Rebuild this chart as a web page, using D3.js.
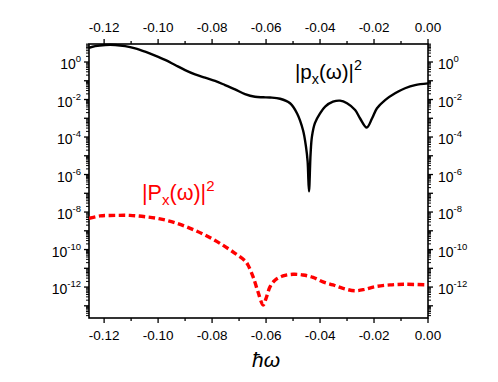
<!DOCTYPE html>
<html><head><meta charset="utf-8">
<script src="https://cdn.jsdelivr.net/npm/d3@7"></script>
<style>
body{margin:0;background:#fff;}
svg text{font-family:"Liberation Sans",Arial,Helvetica,sans-serif;}
</style></head>
<body><svg id="c" width="498" height="382"></svg>
<script>
// omega (hbar*omega) sample positions and values
const omegaBlack = [-0.1256,-0.1233,-0.1196,-0.1159,-0.1122,-0.1085,-0.1048,-0.1011,-0.0974,-0.0937,-0.0900,-0.0863,-0.0826,-0.0789,-0.0752,-0.0715,-0.0678,-0.0641,-0.0611,-0.0585,-0.0548,-0.0511,-0.0485,-0.0463,-0.0452,-0.0446,-0.0441,-0.0435,-0.0430,-0.0419,-0.0400,-0.0381,-0.0352,-0.0326,-0.0300,-0.0270,-0.0252,-0.0227,-0.0207,-0.0189,-0.0159,-0.0122,-0.0085,-0.0048,0.0];
const pxSquared = [5.75,7.08,8.13,8.13,7.08,5.37,3.55,2.19,1.29,0.692,0.372,0.219,0.145,0.0977,0.0589,0.0347,0.0195,0.0140,0.0132,0.0128,0.011,6.3e-3,1.8e-3,2.3e-4,3.0e-5,5.0e-6,1.26e-7,1.3e-5,1.05e-4,5.5e-4,1.8e-3,4.2e-3,7.6e-3,8.7e-3,6.3e-3,2.75e-3,1.0e-3,3.2e-4,1.0e-3,3.4e-3,9.3e-3,0.0214,0.0398,0.0589,0.0724];
const omegaRed = [-0.1256,-0.1215,-0.1159,-0.1104,-0.1048,-0.0993,-0.0937,-0.0881,-0.0826,-0.0770,-0.0715,-0.0678,-0.0667,-0.0648,-0.0630,-0.0611,-0.0600,-0.0585,-0.0567,-0.0537,-0.0500,-0.0463,-0.0426,-0.0389,-0.0352,-0.0315,-0.0270,-0.0233,-0.0196,-0.0141,-0.0085,0.0];
const PxSquared = [4.6e-9,6.2e-9,6.6e-9,6.6e-9,5.6e-9,4.3e-9,2.7e-9,1.35e-9,5.9e-10,2.1e-10,6.3e-11,2.5e-11,1.5e-11,3.5e-12,5.6e-13,1.1e-13,2.5e-13,1.05e-12,2.3e-12,3.9e-12,4.8e-12,4.4e-12,3.3e-12,1.9e-12,1.3e-12,8.5e-13,6.3e-13,7.6e-13,1.05e-12,1.3e-12,1.4e-12,1.3e-12];
const xTicks = [-0.12,-0.10,-0.08,-0.06,-0.04,-0.02,0.00];
const xTickLabels = ["-0.12","-0.10","-0.08","-0.06","-0.04","-0.02","0.00"];
const yTickExps = [0,-2,-4,-6,-8,-10,-12];

const svg = d3.select("#c");
const L=89,R=428,T=44,B=318;
const x = d3.scaleLinear().domain([-0.1256,0]).range([L,R]);
const y = d3.scaleLog().domain([Math.pow(10,-13.65),Math.pow(10,0.96)]).range([B,T]);

// minor x ticks
const xMinor = d3.range(-0.13,0.0001,0.01).map(v=>+v.toFixed(3)).filter(v=>v>=-0.1256 && !xTicks.some(t=>Math.abs(t-v)<1e-6));
// y ticks: majors each decade, minors 2..9
const yMajor=[], yMinor=[];
for(let e=-14;e<=1;e++){
  const v=Math.pow(10,e);
  if(v>=y.domain()[0]&&v<=y.domain()[1]) yMajor.push(v);
  for(let k=2;k<=9;k++){const m=k*v; if(m>=y.domain()[0]&&m<=y.domain()[1]) yMinor.push(m);}
}

const g = svg.append("g");
function tickLines(sel, vals, len, side){
  vals.forEach(v=>{
    if(side==="top") sel.append("line").attr("x1",x(v)).attr("x2",x(v)).attr("y1",T).attr("y2",T-len);
    if(side==="bottom") sel.append("line").attr("x1",x(v)).attr("x2",x(v)).attr("y1",B).attr("y2",B+len);
    if(side==="left") sel.append("line").attr("y1",y(v)).attr("y2",y(v)).attr("x1",L).attr("x2",L-len);
    if(side==="right") sel.append("line").attr("y1",y(v)).attr("y2",y(v)).attr("x1",R).attr("x2",R+len);
  });
}
const tg = g.append("g").attr("stroke","#000").attr("stroke-width",1.3);
tickLines(tg,xTicks,5,"top");tickLines(tg,xTicks,5,"bottom");
tickLines(tg,xMinor,3,"top");tickLines(tg,xMinor,3,"bottom");
tickLines(tg,yMajor,5,"left");tickLines(tg,yMajor,5,"right");
const tgm = g.append("g").attr("stroke","#000").attr("stroke-width",1);
tickLines(tgm,yMinor,3,"left");tickLines(tgm,yMinor,3,"right");

// frame
g.append("rect").attr("x",L).attr("y",T).attr("width",R-L).attr("height",B-T)
 .attr("fill","none").attr("stroke","#000").attr("stroke-width",1.6);

// x labels
xTicks.forEach((v,i)=>{
  g.append("text").attr("x",x(v)).attr("y",32).attr("text-anchor","middle").attr("font-size",13.5).text(xTickLabels[i]);
  g.append("text").attr("x",x(v)).attr("y",340).attr("text-anchor","middle").attr("font-size",13.5).text(xTickLabels[i]);
});
// y labels
yTickExps.forEach(e=>{
  const yy = y(Math.pow(10,e))+7;
  const tl = g.append("text").attr("x",81).attr("y",yy).attr("text-anchor","end").attr("font-size",14);
  tl.append("tspan").text("10");
  tl.append("tspan").attr("font-size",9.5).attr("dy",-7).text(String(e));
  const tr = g.append("text").attr("x",438).attr("y",yy).attr("text-anchor","start").attr("font-size",14);
  tr.append("tspan").text("10");
  tr.append("tspan").attr("font-size",9.5).attr("dy",-7).text(String(e));
});

// curves
const line = d3.line().curve(d3.curveCatmullRom.alpha(0.5));
const blackPts = omegaBlack.map((o,i)=>[x(o),y(pxSquared[i])]);
const redPts = omegaRed.map((o,i)=>[x(o),y(PxSquared[i])]);
svg.append("clipPath").attr("id","cp").append("rect").attr("x",L).attr("y",T-2).attr("width",R-L).attr("height",B-T+2);
g.append("path").attr("d",line(blackPts)).attr("fill","none").attr("stroke","#000").attr("stroke-width",2.4).attr("clip-path","url(#cp)");
g.append("path").attr("d",line(redPts)).attr("fill","none").attr("stroke","#ff0000").attr("stroke-width",3.4)
 .attr("stroke-dasharray","6.5,3.5").attr("clip-path","url(#cp)");

// annotations
function annot(xp,yp,color,main,fs){
  const t = g.append("text").attr("x",xp).attr("y",yp).attr("fill",color).attr("font-size",fs);
  t.append("tspan").text("|"+main);
  t.append("tspan").attr("font-size",fs*0.7).attr("dy",5).text("x");
  t.append("tspan").attr("dy",-5).text("(ω)|");
  t.append("tspan").attr("font-size",fs*0.7).attr("dy",-9).text("2");
}
annot(295,79,"#000","p",20.5);
annot(142,200,"#ff0000","P",21.5);

// axis title
g.append("text").attr("x",266).attr("y",367).attr("text-anchor","middle")
 .attr("font-family","'Liberation Serif','DejaVu Serif',serif").attr("font-style","italic").attr("font-size",21).text("ħω");
</script></body></html>
